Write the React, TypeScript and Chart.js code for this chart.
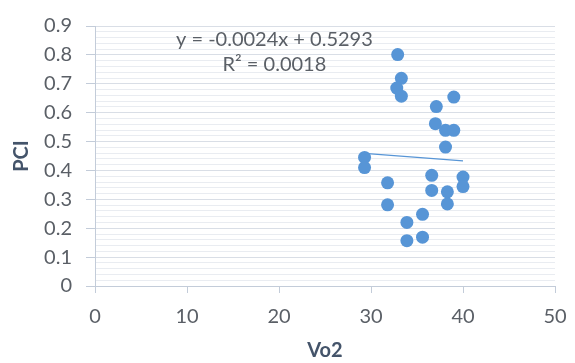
import React, { useEffect, useRef } from "react";
import { Chart, registerables } from "chart.js";
Chart.register(...registerables);

// Scatter data
const vo2 = [29.3, 29.3, 31.8, 31.8, 32.9, 33.3, 32.8, 33.3, 33.9, 33.9, 35.6, 35.6, 36.6, 36.6, 37.1, 37.0, 38.1, 39.0, 38.1, 39.0, 38.3, 38.3, 40.0, 40.0];
const pci = [0.445, 0.41, 0.357, 0.281, 0.801, 0.719, 0.685, 0.657, 0.22, 0.157, 0.248, 0.169, 0.383, 0.331, 0.621, 0.562, 0.539, 0.539, 0.481, 0.654, 0.326, 0.284, 0.377, 0.344];

// Linear trendline endpoints
const trendX = [29.3, 40.0];
const trendY = [0.459, 0.433];

// Axis ranges / ticks
const xMin = 0;
const xMax = 50;
const xStep = 10;
const yMin = 0;
const yMax = 0.9;
const yMinorStep = 0.02;

const xTitle = "Vo2";
const yTitle = "PCI";
const equationLines = ["y = -0.0024x + 0.5293", "R² = 0.0018"];
const equationX = 19.5;
const equationY = [0.853, 0.765];

const FONT = "Lato, 'Open Sans', sans-serif";
const TEXT = "#5a5f66";
const AXIS = "#c3ccd9";
const MAJOR = "#d9dee6";
const MINOR = "#e9ecf1";
const BLUE = "#5795d6";

const isMajor = (v: number) => Math.round(v * 100) % 10 === 0;

const equationPlugin = {
  id: "equation",
  afterDatasetsDraw(chart: any) {
    const { ctx, scales } = chart;
    ctx.save();
    ctx.font = `20px ${FONT}`;
    ctx.fillStyle = TEXT;
    ctx.textAlign = "center";
    ctx.textBaseline = "middle";
    equationLines.forEach((line, i) => {
      ctx.fillText(line, scales.x.getPixelForValue(equationX), scales.y.getPixelForValue(equationY[i]));
    });
    ctx.restore();
  },
};

export default function App() {
  const ref = useRef<HTMLCanvasElement | null>(null);
  useEffect(() => {
    document.body.style.margin = "0";
    if (!ref.current) return;
    const chart = new Chart(ref.current, {
      type: "scatter",
      data: {
        datasets: [
          {
            type: "line",
            data: trendX.map((x, i) => ({ x, y: trendY[i] })),
            borderColor: BLUE,
            borderWidth: 1.3,
            pointRadius: 0,
            fill: false,
          } as any,
          {
            data: vo2.map((x, i) => ({ x, y: pci[i] })),
            backgroundColor: BLUE,
            borderColor: BLUE,
            borderWidth: 0,
            pointRadius: 6.5,
          },
        ],
      },
      options: {
        responsive: false,
        animation: false,
        devicePixelRatio: 1,
        layout: { padding: { top: 19, right: 0, left: 0, bottom: 0 } },
        plugins: { legend: { display: false }, tooltip: { enabled: false } },
        scales: {
          x: {
            type: "linear",
            min: xMin,
            max: xMax,
            ticks: { stepSize: xStep, color: TEXT, font: { family: FONT, size: 20 }, padding: 12 },
            grid: { drawOnChartArea: false, tickLength: 7, tickColor: AXIS },
            border: { color: AXIS },
            title: { display: true, text: xTitle, color: "#44546a", font: { family: FONT, size: 20, weight: "bold" }, padding: { top: 0, bottom: 0 } },
            afterFit: (s: any) => {
              s.height = 77;
              s.paddingLeft = 0;
              s.paddingRight = 0;
            },
          },
          y: {
            type: "linear",
            min: yMin,
            max: yMax,
            ticks: {
              stepSize: yMinorStep,
              autoSkip: false,
              color: TEXT,
              font: { family: FONT, size: 20 },
              padding: 14,
              callback: (v: any) => (isMajor(v) ? String(Math.round(v * 10) / 10) : ""),
            },
            grid: {
              color: (c: any) => (isMajor(c.tick.value) ? MAJOR : MINOR),
              tickColor: (c: any) => (isMajor(c.tick.value) ? AXIS : "rgba(0,0,0,0)"),
              tickLength: 9,
            },
            border: { color: AXIS },
            title: { display: true, text: yTitle, color: "#44546a", font: { family: FONT, size: 20, weight: "bold" }, padding: { top: 10, bottom: 0 } },
            afterFit: (s: any) => { s.width = 95; },
          },
          spacer: {
            type: "linear",
            position: "right",
            display: true,
            ticks: { display: false },
            grid: { display: false, drawTicks: false },
            border: { display: false },
            afterFit: (s: any) => { s.width = 20; },
          },
        },
      },
      plugins: [equationPlugin],
    });
    return () => chart.destroy();
  }, []);
  return (
    <div style={{ width: 575, height: 363 }}>
      <canvas ref={ref} width={575} height={363} />
    </div>
  );
}
